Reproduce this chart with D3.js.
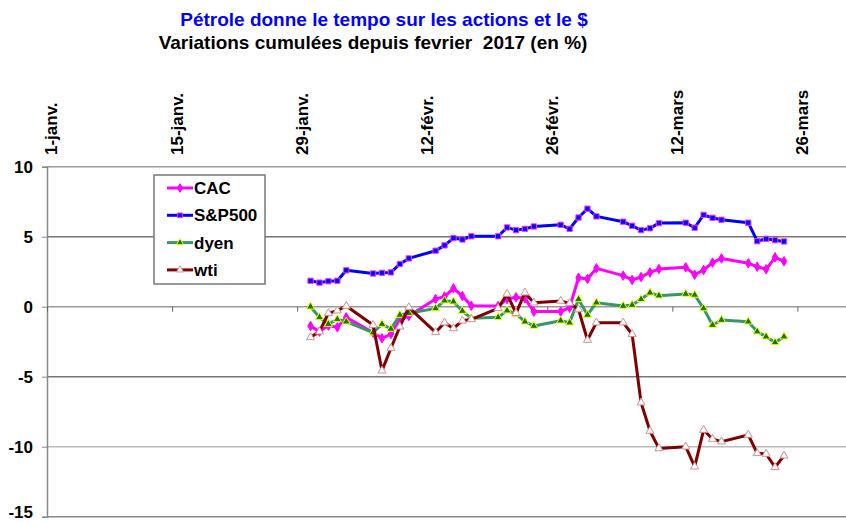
<!DOCTYPE html>
<html>
<head>
<meta charset="utf-8">
<script src="https://cdn.jsdelivr.net/npm/d3@7"></script>
<style>
  body { margin: 0; background: #fff; }
  text { font-family: "Liberation Sans", Arial, sans-serif; font-weight: bold; }
</style>
</head>
<body>
<div id="chartContainer"></div>
<script>
// trading days (Jan 30 -> Mar 24, 2017)
const dates = [
  "2017-01-30","2017-01-31","2017-02-01","2017-02-02","2017-02-03",
  "2017-02-06","2017-02-07","2017-02-08","2017-02-09","2017-02-10",
  "2017-02-13","2017-02-14","2017-02-15","2017-02-16","2017-02-17",
  "2017-02-20","2017-02-21","2017-02-22","2017-02-23","2017-02-24",
  "2017-02-27","2017-02-28","2017-03-01","2017-03-02","2017-03-03",
  "2017-03-06","2017-03-07","2017-03-08","2017-03-09","2017-03-10",
  "2017-03-13","2017-03-14","2017-03-15","2017-03-16","2017-03-17",
  "2017-03-20","2017-03-21","2017-03-22","2017-03-23","2017-03-24"
];
const cac = [-1.38,-1.78,-1.35,-1.47,-0.76,-1.85,-2.26,-1.95,-0.95,-0.66,
             0.55,0.72,1.31,0.76,0.07,0.05,0.55,0.67,0.6,-0.35,
             -0.35,-0.07,2.07,1.98,2.74,2.22,1.91,2.12,2.45,2.69,
             2.81,2.29,2.62,3.15,3.45,3.1,2.86,2.67,3.53,3.24];
const sp500 = [1.85,1.72,1.82,1.85,2.6,2.37,2.42,2.45,3.05,3.45,
               4.0,4.38,4.9,4.8,5.03,5.03,5.66,5.47,5.56,5.73,
               5.85,5.56,6.37,7.0,6.45,6.07,5.78,5.47,5.6,5.97,
               6.0,5.64,6.56,6.35,6.21,6.0,4.68,4.85,4.75,4.66];
const dyen = [0.0,-0.76,-1.24,-0.9,-1.07,-1.85,-1.24,-1.59,-0.59,-0.47,
              -0.12,0.43,0.36,-0.31,-0.83,-0.76,-0.28,-0.52,-1.07,-1.38,
              -1.0,-1.14,0.53,-0.59,0.29,0.05,0.12,0.53,1.0,0.79,
              0.91,0.84,-0.12,-1.31,-0.95,-1.07,-1.78,-2.14,-2.55,-2.14];
const wti = [-2.19,-1.78,-0.47,-0.28,0.05,-1.31,-4.57,-2.97,-1.43,-0.05,
             -1.83,-1.14,-1.55,-1.0,-0.9,-0.12,0.91,-0.47,1.0,0.29,
             0.41,0.24,-0.2,-2.38,-1.14,-1.14,-1.97,-6.85,-8.88,-10.12,
             -10.0,-11.43,-8.81,-9.45,-9.64,-9.16,-10.47,-10.52,-11.47,-10.64];
const seriesNames = ["CAC", "S&P500", "dyen", "wti"];
const tickDates = ["2017-01-01","2017-01-15","2017-01-29","2017-02-12","2017-02-26","2017-03-12","2017-03-26"];
const tickLabels = ["1-janv.","15-janv.","29-janv.","12-févr.","26-févr.","12-mars","26-mars"];
const yTicks = [-15, -10, -5, 0, 5, 10];

const svgWidth = 846, svgHeight = 523;
const plotLeft = 47, plotRight = 851, plotTop = 166.7, plotBottom = 516.7;

const svg = d3.select("#chartContainer").append("svg")
  .attr("width", svgWidth).attr("height", svgHeight);

const parse = d3.utcParse("%Y-%m-%d");
const x = d3.scaleUtc()
  .domain([parse("2017-01-01"), parse("2017-04-01")])
  .range([plotLeft, plotRight]);
const halfDay = (x(parse("2017-01-02")) - x(parse("2017-01-01"))) / 2;
const px = d => x(parse(d)) + halfDay;   // points sit in the middle of their day
const y = d3.scaleLinear().domain([-15, 10]).range([plotBottom, plotTop]);

// titles
svg.append("text").attr("x", 384).attr("y", 26).attr("text-anchor", "middle")
  .style("font-size", "19px").style("fill", "#0000ff")
  .text("Pétrole donne le tempo sur les actions et le $");
svg.append("text").attr("x", 373).attr("y", 49).attr("text-anchor", "middle")
  .style("font-size", "19px").style("fill", "#000").style("white-space", "pre")
  .text("Variations cumulées depuis fevrier  2017 (en %)");

// horizontal grid
const gridColors = { "10": "#999", "5": "#777", "0": "#999", "-5": "#777", "-10": "#bbb", "-15": "#888" };
svg.append("g").selectAll("line").data(yTicks).enter().append("line")
  .attr("x1", plotLeft).attr("x2", plotRight)
  .attr("y1", d => y(d)).attr("y2", d => y(d))
  .attr("stroke", d => gridColors[d]).attr("stroke-width", 1.5);

// y axis
const yAxis = svg.append("g").attr("transform", `translate(${plotLeft},0)`)
  .call(d3.axisLeft(y).tickValues(yTicks).tickSize(5).tickPadding(9).tickFormat(d => String(d)));
yAxis.select(".domain").attr("stroke", "#888").attr("stroke-width", 1.5);
yAxis.selectAll(".tick line").attr("stroke", "#888");
yAxis.selectAll(".tick text").style("font-size", "17px").style("fill", "#000")
  .style("font-family", "'Liberation Sans', Arial, sans-serif").style("font-weight", "bold");
// keep the bottom label inside the picture
yAxis.selectAll(".tick text").filter(d => d === -15).attr("dy", "0.05em");

// x axis on the zero line (ticks only)
const xAxis = svg.append("g").attr("transform", `translate(0,${y(0)})`)
  .call(d3.axisBottom(x).tickValues(tickDates.map(parse)).tickSize(5).tickFormat(""));
xAxis.select(".domain").remove();
xAxis.selectAll(".tick line").attr("stroke", "#666");

// date labels at the top, rotated
svg.append("g").selectAll("text").data(tickDates).enter().append("text")
  .attr("transform", (d, i) => `translate(${px(d) + 6},155) rotate(-90)`)
  .attr("text-anchor", "start")
  .style("font-size", "17px").style("fill", "#000")
  .text((d, i) => tickLabels[i]);

// series
const series = [
  { name: seriesNames[0], values: cac, color: "#ff00ff", marker: "diamond", mFill: "#ff00ff", mStroke: "#ff00ff" },
  { name: seriesNames[1], values: sp500, color: "#0000ff", marker: "square", mFill: "#0000ff", mStroke: "#ff33ff" },
  { name: seriesNames[2], values: dyen, color: "#339966", marker: "triangle", mFill: "#117711", mStroke: "#ffff00" },
  { name: seriesNames[3], values: wti, color: "#800000", marker: "triangle", mFill: "#ffffff", mStroke: "#d09090" }
];
const symbols = { diamond: d3.symbolDiamond, square: d3.symbolSquare, triangle: d3.symbolTriangle };
const symSize = { diamond: 26, square: 28, triangle: 28 };

const line = d3.line().x(d => px(d.date)).y(d => y(d.v));

series.forEach(s => {
  const pts = dates.map((d, i) => ({ date: d, v: s.values[i] }));
  svg.append("path").datum(pts)
    .attr("fill", "none").attr("stroke", s.color).attr("stroke-width", 3)
    .attr("stroke-linejoin", "round").attr("d", line);
  svg.append("g").selectAll("path").data(pts).enter().append("path")
    .attr("transform", d => `translate(${px(d.date)},${y(d.v)})`)
    .attr("d", d3.symbol().type(symbols[s.marker]).size(symSize[s.marker]))
    .attr("fill", s.mFill).attr("stroke", s.mStroke).attr("stroke-width", 1);
});

// legend
const legend = svg.append("g").attr("transform", "translate(154,175)");
legend.append("rect").attr("width", 111).attr("height", 109)
  .attr("fill", "#fff").attr("stroke", "#777").attr("stroke-width", 1.5);
series.forEach((s, i) => {
  const ly = 13 + i * 27.3;
  legend.append("line").attr("x1", 13).attr("x2", 39).attr("y1", ly).attr("y2", ly)
    .attr("stroke", s.color).attr("stroke-width", 3);
  legend.append("path").attr("transform", `translate(26,${ly})`)
    .attr("d", d3.symbol().type(symbols[s.marker]).size(22))
    .attr("fill", s.mFill).attr("stroke", s.mStroke).attr("stroke-width", 1);
  legend.append("text").attr("x", 40).attr("y", ly + 6)
    .style("font-size", "17px").style("fill", "#000").text(s.name);
});
</script>
</body>
</html>
